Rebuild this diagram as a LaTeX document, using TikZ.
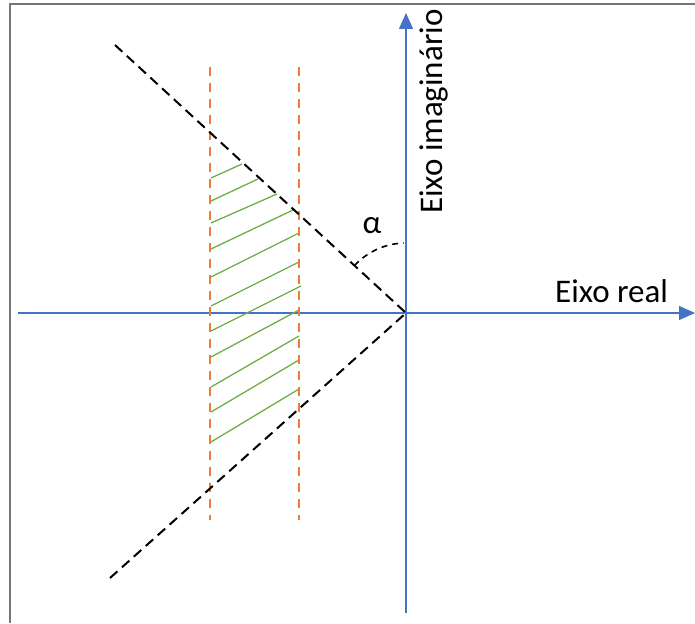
\documentclass[tikz,border=0pt]{standalone}
\usepackage{fontspec}
\setmainfont{Carlito}
\usetikzlibrary{arrows.meta}
\definecolor{axisblue}{HTML}{4472C4}
\definecolor{hatchgreen}{HTML}{70AD47}
\definecolor{bandorange}{HTML}{ED7D31}
\definecolor{framegray}{HTML}{767676}
\begin{document}
\begin{tikzpicture}[x=1pt,y=-1pt,
  axis/.style={draw=axisblue, line width=1.3pt, -{Triangle[length=16pt,width=14pt]}},
  bound/.style={draw=black, line width=2pt, dash pattern=on 10pt off 6pt},
  band/.style={draw=bandorange, line width=2pt, dash pattern=on 9pt off 7pt},
  hatch/.style={draw=hatchgreen, line width=1.3pt},
  anglearc/.style={draw=black, line width=1.6pt, dash pattern=on 6pt off 5pt},
  lbl/.style={font=\fontsize{33}{40}\selectfont, inner sep=0pt}]
\useasboundingbox (0,0) rectangle (695,623);
% frame
\draw[framegray, line width=2pt] (9.5,623) -- (9.5,4.5) -- (695,4.5);
% axes
\coordinate (O) at (406,313);
\coordinate (xs) at (18,313);
\coordinate (xe) at (695,313);
\coordinate (ys) at (406,613);
\coordinate (ye) at (406,13);
\draw[axis] (xs) -- (xe);
\draw[axis] (ys) -- (ye);
% green hatching
\foreach \ly/\rx/\ry in {178/242/164, 201/258/179, 223/277/194, 249/293/210,
  277/299/233, 306/299/262, 331/301/286, 357/299/310, 387/299/336,
  412/299/360, 442/299/389}{
  \draw[hatch] (211,\ly) -- (\rx,\ry);
}
% orange band limits
\coordinate (b1t) at (210,67); \coordinate (b1b) at (210,520);
\coordinate (b2t) at (299,67); \coordinate (b2b) at (299,520);
\draw[band] (b1t) -- (b1b);
\draw[band] (b2t) -- (b2b);
% black dashed boundary lines
\coordinate (bu) at (115,45);
\coordinate (bl) at (110,578);
\draw[bound] (bu) -- (O);
\draw[bound] (bl) -- (O);
% angle arc
\draw[anglearc] ([shift={(137.4:70pt)}]O) arc[start angle=137.4, end angle=92, radius=70pt];
% labels
\node[lbl] (alpha) at (372,226) {α};
\node[lbl, anchor=base west] (re) at (555,302) {Eixo real};
\node[lbl, rotate=90, anchor=base west] (im) at (442,214) {Eixo imaginário};
\end{tikzpicture}
\end{document}
